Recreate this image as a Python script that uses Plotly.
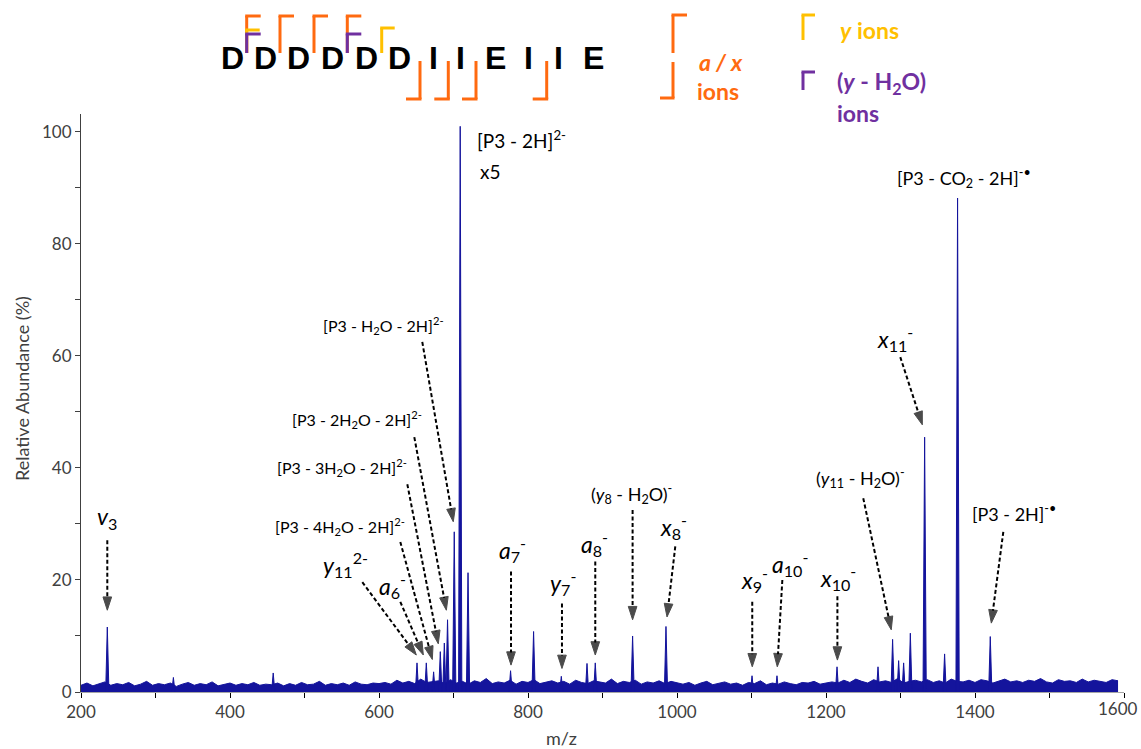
import plotly.graph_objects as go

# ---------------- data ----------------
NOISE_START_MZ = 200
NOISE_STEP_MZ = 8
NOISE_R1 = [1.2, 1.6, 1.1, 1.4, 1.8, 1.2, 1.5, 1.3, 1.7, 1.1, 1.4, 1.9, 1.2, 1.5, 1.3, 1.6,
            1.0, 1.4, 1.7, 1.2, 1.5, 1.3, 1.8, 1.1, 1.4, 1.6, 1.2, 1.5, 1.3, 1.7, 1.2, 1.4]
NOISE_R2 = [1.3, 1.6, 1.1, 1.5, 1.2, 1.7, 1.3, 1.4, 1.9, 1.2, 1.5, 1.3, 1.6, 1.2, 1.8, 1.4,
            1.3, 1.6, 1.5]
NOISE_R3 = [1.7, 1.4, 2.1, 1.6, 1.9, 1.5, 2.3, 1.7, 1.8, 2.0, 1.5, 2.2, 1.6, 1.9, 1.4, 2.0,
            1.7, 2.4, 1.5, 1.8, 1.6, 2.1, 1.4, 1.9, 1.7, 2.2, 1.5, 1.8, 2.0, 1.6, 1.9, 1.4,
            2.1, 1.7, 1.5, 2.0, 1.8, 1.6, 2.3, 1.5, 1.9, 1.7, 2.1, 1.4, 1.8, 1.6, 2.0, 1.5,
            1.9, 1.7]
NOISE_R4 = [1.4, 1.7, 1.2, 1.6, 1.9, 1.3, 1.5, 1.8, 1.4, 1.6, 1.2, 1.7, 1.5, 2.0, 1.3, 1.6,
            1.4, 1.8, 1.5, 1.3, 1.7, 1.6, 1.9, 1.4, 1.6]
NOISE_R5 = [1.8, 1.6, 2.1, 1.7, 2.3, 1.9, 1.6, 2.2, 1.8, 2.0, 1.7, 2.4, 1.6, 1.9, 2.1, 1.8,
            2.2, 1.7, 2.0, 1.6, 2.3, 1.9, 1.8, 2.1, 1.7, 2.2, 2.0, 1.6, 1.9, 2.3, 1.8, 2.0,
            1.7, 2.1, 1.9, 2.4, 1.8, 1.6, 2.2, 1.9, 2.0, 1.7, 2.3, 1.8, 2.1, 1.9, 1.7, 2.2, 2.0]

PEAK_MZ = [235.3, 324, 458, 651, 663.5, 673.3, 682.3, 687.7, 692, 701, 709, 719.5,
           776.6, 807.5, 844.7, 879.2, 890.3, 940.4, 985.2, 1100.7, 1134.2, 1214.8,
           1269.8, 1289.4, 1297.5, 1304.2, 1313.2, 1332.4, 1359.2, 1376.6, 1420.5]
PEAK_INT = [11.6, 2.6, 3.4, 5.2, 5.2, 3.6, 7.2, 8.75, 12.9, 28.6, 101.0, 21.3,
            3.8, 10.8, 2.8, 5.1, 5.2, 10.0, 11.7, 2.9, 2.9, 4.5,
            4.5, 9.4, 5.6, 5.2, 10.5, 45.5, 6.8, 88.2, 9.9]

X_TICKS = [200, 400, 600, 800, 1000, 1200, 1400]
X_LAST_TICK = 1600
Y_TICKS = [0, 20, 40, 60, 80, 100]

# ion labels: text, label (m/z, %), arrow tail (m/z, %), arrow tip (m/z, %), font size
ION_LABELS = [
    ("<i>v</i><sub>3</sub>", 235.3, 31.1, 235.3, 27.1, 235.3, 14.6, 23),
    ("<i>y</i><sub>11</sub><sup>2-</sup>", 554.8, 22.7, 577.6, 19.6, 650.1, 6.6, 23),
    ("<i>a</i><sub>6</sub><sup>-</sup>", 617.9, 19.1, 628.6, 16.1, 659.5, 6.6, 23),
    ("[P3 - 4H<sub>2</sub>O - 2H]<sup>2-</sup>", 548.0, 29.5, 628.6, 26.8, 671.6, 5.8, 16),
    ("[P3 - 3H<sub>2</sub>O - 2H]<sup>2-</sup>", 550.7, 40.0, 638.0, 37.1, 679.6, 8.6, 16),
    ("[P3 - 2H<sub>2</sub>O - 2H]<sup>2-</sup>", 570.9, 48.6, 647.4, 45.5, 690.4, 14.6, 16),
    ("[P3 - H<sub>2</sub>O - 2H]<sup>2-</sup>", 605.8, 65.5, 658.1, 62.5, 699.7, 30.4, 16),
    ("<i>a</i><sub>7</sub><sup>-</sup>", 779.0, 25.5, 777.2, 21.5, 777.2, 4.8, 23),
    ("<i>y</i><sub>7</sub><sup>-</sup>", 847.4, 19.5, 845.6, 15.8, 845.6, 4.2, 23),
    ("<i>a</i><sub>8</sub><sup>-</sup>", 889.3, 26.6, 890.3, 23.3, 890.3, 6.6, 23),
    ("(<i>y</i><sub>8</sub> - H<sub>2</sub>O)<sup>-</sup>", 938.7, 35.4, 940.4, 32.5, 940.4, 12.9, 18),
    ("<i>x</i><sub>8</sub><sup>-</sup>", 995.0, 29.5, 997.7, 26.0, 986.6, 13.4, 23),
    ("<i>x</i><sub>9</sub><sup>-</sup>", 1103.7, 20.0, 1101.0, 16.1, 1101.0, 4.5, 23),
    ("<i>a</i><sub>10</sub><sup>-</sup>", 1152.0, 23.0, 1141.4, 20.0, 1134.6, 4.5, 23),
    ("<i>x</i><sub>10</sub><sup>-</sup>", 1216.5, 20.5, 1215.3, 17.1, 1215.3, 5.7, 23),
    ("(<i>y</i><sub>11</sub> - H<sub>2</sub>O)<sup>-</sup>", 1246.0, 38.2, 1250.0, 34.6, 1287.6, 11.1, 18),
    ("<i>x</i><sub>11</sub><sup>-</sup>", 1293.0, 63.2, 1299.7, 59.8, 1329.3, 47.7, 23),
    ("[P3 - 2H]<sup>-•</sup>", 1451.7, 32.0, 1438.0, 28.6, 1421.9, 12.3, 18),
]
PLAIN_LABELS = [
    ("[P3 - CO<sub>2</sub> - 2H]<sup>-•</sup>", 1385.6, 91.8, "center", 18),
    ("[P3 - 2H]<sup>2-</sup>", 729.3, 98.6, "left", 19),
    ("x5", 733.3, 92.9, "left", 19),
]

SEQUENCE = ["D", "D", "D", "D", "D", "D", "I", "I", "E", "I", "I", "E"]
SEQ_X_PX = [232, 265, 298, 332, 366, 399, 433, 460, 495, 528, 558, 593]
A_CLEAVE_PX = [246.7, 280, 314, 347.3]      # a ions (top, orange)
Y_CLEAVE_PX = [246.7, 381.7]                # y ions (top, yellow)
YW_CLEAVE_PX = [246.7, 347.3]               # y - H2O ions (top, purple)
X_CLEAVE_PX = [420, 448.3, 476, 546.7]      # x ions (bottom, orange)

# ---------------- style ----------------
W, H = 1141, 749
ML, MR, MT, MB = 81, 17, 114, 57
BLUE = "#14149c"
ORANGE = "#ff6a10"
GOLD = "#ffc000"
PURPLE = "#7030a0"
FONT = "Lato, 'Open Sans', sans-serif"
AXIS_GREY = "#404040"
TICK_SIZE = 17


def px_x(px):
    return (px - ML) / (W - ML - MR)


def px_y(py):
    return (H - MB - py) / (H - MT - MB)


fig = go.Figure()

# baseline noise
noise = NOISE_R1 + NOISE_R2 + NOISE_R3 + NOISE_R4 + NOISE_R5
noise_mz = [NOISE_START_MZ + NOISE_STEP_MZ * i for i in range(len(noise))]
fig.add_trace(go.Scatter(x=noise_mz, y=noise, mode="lines", fill="tozeroy",
                         line=dict(color=BLUE, width=1), fillcolor=BLUE,
                         hoverinfo="skip", showlegend=False))

# peaks
HW = 2.2
px_list, py_list = [], []
for mz, h in zip(PEAK_MZ, PEAK_INT):
    px_list += [mz - HW, mz, mz + HW, None]
    py_list += [0, h, 0, None]
fig.add_trace(go.Scatter(x=px_list, y=py_list, mode="lines", fill="toself",
                         line=dict(color=BLUE, width=1), fillcolor=BLUE,
                         hoverinfo="skip", showlegend=False))

annotations = []
# ion labels with dashed arrows
for text, lx, ly, tx, ty, hx, hy, fs in ION_LABELS:
    fig.add_trace(go.Scatter(
        x=[tx, hx], y=[ty, hy], mode="lines+markers",
        line=dict(color="black", width=2, dash="4px,2.5px"),
        marker=dict(symbol=["circle", "arrow"], size=[0, 14], color="black",
                    angleref="previous", line=dict(width=1, color="black")),
        hoverinfo="skip", showlegend=False, cliponaxis=False))
    annotations.append(dict(x=lx, y=ly, xref="x", yref="y", text=text, showarrow=False,
                            xanchor="center", yanchor="middle",
                            font=dict(family=FONT, size=fs, color="black")))

for text, lx, ly, anchor, fs in PLAIN_LABELS:
    annotations.append(dict(x=lx, y=ly, xref="x", yref="y", text=text, showarrow=False,
                            xanchor=anchor, yanchor="middle",
                            font=dict(family=FONT, size=fs, color="black")))

# last x tick label, nudged inside the page as in the reference
annotations.append(dict(x=X_LAST_TICK, y=px_y(709), xref="x", yref="paper",
                        text=str(X_LAST_TICK), showarrow=False, xanchor="right",
                        yanchor="middle", xshift=16,
                        font=dict(family=FONT, size=TICK_SIZE, color=AXIS_GREY)))
# axis titles
annotations.append(dict(x=px_x(22), y=px_y(389), xref="paper", yref="paper",
                        text="Relative Abundance (%)", showarrow=False, textangle=-90,
                        xanchor="center", yanchor="middle",
                        font=dict(family=FONT, size=18, color=AXIS_GREY)))
annotations.append(dict(x=px_x(561), y=px_y(738), xref="paper", yref="paper",
                        text="m/z", showarrow=False,
                        xanchor="center", yanchor="middle",
                        font=dict(family=FONT, size=18, color=AXIS_GREY)))

# sequence letters
for letter, xpx in zip(SEQUENCE, SEQ_X_PX):
    annotations.append(dict(x=px_x(xpx), y=px_y(58), xref="paper", yref="paper",
                            text="<b>" + letter + "</b>", showarrow=False,
                            xanchor="center", yanchor="middle",
                            font=dict(family="'Liberation Sans', Arial, sans-serif",
                                      size=32, color="black")))

# legend texts
LEG = [
    ("<b><i>a / x</i></b>", 697, 62, ORANGE),
    ("<b>ions</b>", 695, 91, ORANGE),
    ("<b><i>y</i> ions</b>", 838, 30, GOLD),
    ("<b>(<i>y</i> - H<sub>2</sub>O)</b>", 835, 82, PURPLE),
    ("<b>ions</b>", 835, 113, PURPLE),
]
for text, xpx, ypx, col in LEG:
    annotations.append(dict(x=px_x(xpx), y=px_y(ypx), xref="paper", yref="paper",
                            text=text, showarrow=False, xanchor="left", yanchor="middle",
                            font=dict(family=FONT, size=23, color=col)))

shapes = []


def seg(x0, y0, x1, y1, col):
    shapes.append(dict(type="line", xref="paper", yref="paper",
                       x0=px_x(x0), y0=px_y(y0), x1=px_x(x1), y1=px_y(y1),
                       line=dict(color=col, width=3)))


for x in A_CLEAVE_PX:
    seg(x, 16, x, 53, ORANGE)
    seg(x - 1.5, 16, x + 14, 16, ORANGE)
for x in Y_CLEAVE_PX:
    top = 30 if x < 300 else 28
    seg(x, top, x, 53, GOLD)
    seg(x - 1.5, top, x + 13, top, GOLD)
for x in YW_CLEAVE_PX:
    seg(x, 34, x, 53, PURPLE)
    seg(x - 1.5, 34, x + 14, 34, PURPLE)
for x in X_CLEAVE_PX:
    seg(x, 61, x, 99, ORANGE)
    seg(x - 14, 99, x + 1.5, 99, ORANGE)

# legend brackets
seg(673, 15, 673, 53, ORANGE)
seg(671.5, 15, 687, 15, ORANGE)
seg(673, 62, 673, 98, ORANGE)
seg(660, 98, 674.5, 98, ORANGE)
seg(803, 15, 803, 40, GOLD)
seg(801.5, 15, 815, 15, GOLD)
seg(803, 72, 803, 90, PURPLE)
seg(801.5, 72, 815, 72, PURPLE)

fig.update_layout(
    width=W, height=H,
    margin=dict(l=ML, r=MR, t=MT, b=MB, autoexpand=False),
    paper_bgcolor="white", plot_bgcolor="white",
    showlegend=False,
    annotations=annotations,
    shapes=shapes,
    xaxis=dict(range=[200, 1600], tickvals=X_TICKS, ticks="outside", ticklen=5,
               tickcolor="black", showline=True, linecolor="#a6a6a6", linewidth=1,
               showgrid=False, zeroline=False, automargin=False,
               minor=dict(dtick=100, ticks="outside", ticklen=5, tickcolor="black",
                          tick0=200),
               tickfont=dict(family=FONT, size=TICK_SIZE, color=AXIS_GREY)),
    yaxis=dict(range=[0, 103.2], tickvals=Y_TICKS, ticks="outside", ticklen=5,
               tickcolor=AXIS_GREY, showline=True, linecolor=AXIS_GREY, linewidth=1,
               showgrid=False, zeroline=False, automargin=False,
               minor=dict(dtick=10, ticks="outside", ticklen=5, tickcolor=AXIS_GREY),
               tickfont=dict(family=FONT, size=TICK_SIZE, color=AXIS_GREY)),
)

fig.write_html("out.html", config={"displayModeBar": False})
